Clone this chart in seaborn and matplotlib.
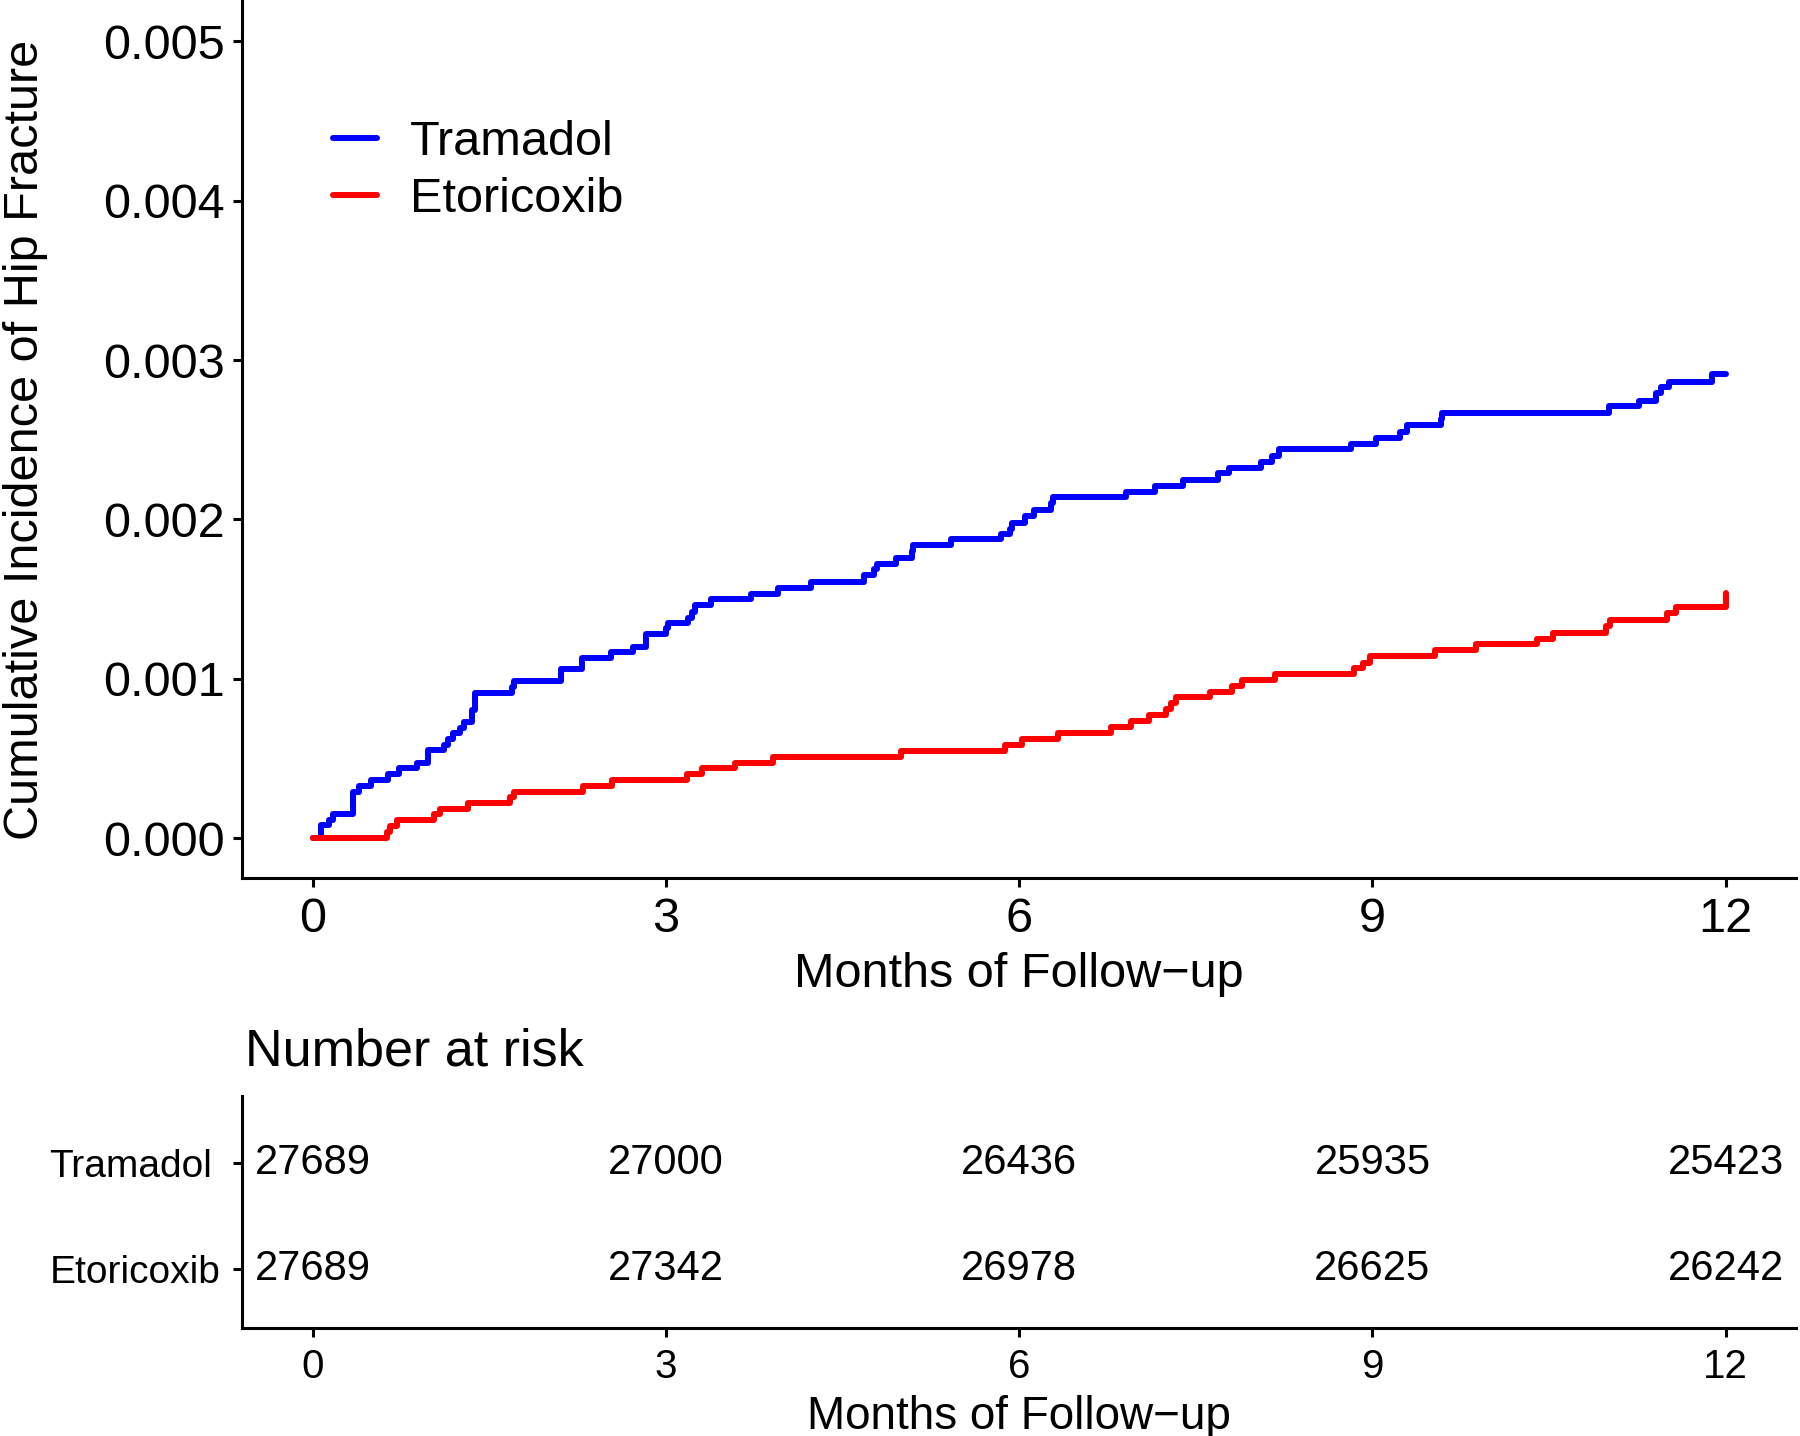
import pandas as pd
import matplotlib
matplotlib.use("Agg")
import matplotlib.pyplot as plt
import seaborn as sns
from matplotlib.ticker import FormatStrFormatter

# Step points (months, incidence x 1e-3)
tramadol_time = [0, 0.07, 0.14, 0.17, 0.34, 0.39, 0.50, 0.64, 0.73, 0.89,
                 0.98, 1.12, 1.15, 1.19, 1.25, 1.29, 1.35, 1.38, 1.69, 1.71,
                 2.11, 2.29, 2.53, 2.72, 2.83, 3.00, 3.02, 3.19, 3.22, 3.25,
                 3.38, 3.72, 3.95, 4.23, 4.68, 4.77, 4.79, 4.95, 5.09, 5.10,
                 5.42, 5.85, 5.92, 5.94, 6.05, 6.13, 6.27, 6.29, 6.91, 7.15,
                 7.39, 7.69, 7.78, 8.05, 8.15, 8.21, 8.82, 9.03, 9.23, 9.29,
                 9.58, 9.59, 11.01, 11.26, 11.41, 11.45, 11.52, 11.88, 12.0]
tramadol_inc = [0, 0.081, 0.113, 0.150, 0.288, 0.326, 0.363, 0.401, 0.439, 0.470,
                0.551, 0.583, 0.620, 0.658, 0.689, 0.727, 0.802, 0.908, 0.946, 0.984,
                1.06, 1.13, 1.17, 1.20, 1.28, 1.32, 1.35, 1.38, 1.42, 1.46,
                1.50, 1.53, 1.57, 1.61, 1.65, 1.69, 1.72, 1.76, 1.80, 1.84,
                1.88, 1.91, 1.94, 1.98, 2.02, 2.06, 2.10, 2.14, 2.17, 2.21,
                2.25, 2.29, 2.32, 2.36, 2.40, 2.44, 2.47, 2.51, 2.55, 2.59,
                2.63, 2.67, 2.71, 2.74, 2.79, 2.83, 2.86, 2.91, 2.91]

etori_time = [0, 0.63, 0.66, 0.72, 1.03, 1.08, 1.32, 1.68, 1.71, 2.30,
              2.54, 3.18, 3.31, 3.59, 3.91, 5.00, 5.88, 6.02, 6.33, 6.78,
              6.95, 7.10, 7.25, 7.29, 7.33, 7.62, 7.81, 7.89, 8.17, 8.84,
              8.92, 8.98, 9.53, 9.88, 10.40, 10.53, 10.98, 11.02, 11.50, 11.58,
              12.0]
etori_inc = [0, 0.038, 0.075, 0.113, 0.150, 0.182, 0.219, 0.257, 0.288, 0.326,
             0.363, 0.401, 0.439, 0.470, 0.508, 0.545, 0.583, 0.620, 0.658, 0.695,
             0.733, 0.771, 0.808, 0.846, 0.883, 0.915, 0.952, 0.990, 1.03, 1.07,
             1.10, 1.14, 1.18, 1.22, 1.25, 1.29, 1.33, 1.37, 1.41, 1.45,
             1.54]

groups = ["Tramadol", "Etoricoxib"]
colors = {"Tramadol": "#0000FF", "Etoricoxib": "#FF0000"}

# Number at risk table
risk_times = [0, 3, 6, 9, 12]
risk_tramadol = [27689, 27000, 26436, 25935, 25423]
risk_etori = [27689, 27342, 26978, 26625, 26242]

x_ticks = [0, 3, 6, 9, 12]
y_ticks = [0, 0.001, 0.002, 0.003, 0.004, 0.005]

df = pd.concat([
    pd.DataFrame({"time": tramadol_time, "cum": [v / 1000 for v in tramadol_inc], "group": "Tramadol"}),
    pd.DataFrame({"time": etori_time, "cum": [v / 1000 for v in etori_inc], "group": "Etoricoxib"}),
])

sns.set_style("ticks")
plt.rcParams['font.family'] = ['Liberation Sans', 'DejaVu Sans']
plt.rcParams['text.color'] = 'black'
plt.rcParams['axes.labelcolor'] = 'black'
plt.rcParams['xtick.color'] = 'black'
plt.rcParams['ytick.color'] = 'black'

fig = plt.figure(figsize=(18, 14.36), dpi=100)

# main curve panel
ax = fig.add_axes([0.1344, 0.3886, 0.8636, 0.6104])
sns.lineplot(data=df, x="time", y="cum", hue="group", hue_order=groups,
             palette=colors, drawstyle="steps-post", estimator=None,
             linewidth=4.3, ax=ax)

ax.set_xlim(-0.6, 12.6)
ax.set_ylim(-0.00025, 0.00525)
ax.set_xticks(x_ticks)
ax.set_yticks(y_ticks)
ax.yaxis.set_major_formatter(FormatStrFormatter('%.3f'))
ax.tick_params(axis='both', labelsize=35, length=6.5, width=2.2, color='black')
ax.tick_params(axis='x', pad=7)
ax.tick_params(axis='y', pad=6)
for side in ["top", "right"]:
    ax.spines[side].set_visible(False)
for side in ["left", "bottom"]:
    ax.spines[side].set_linewidth(2.2)
    ax.spines[side].set_color('black')

ax.set_xlabel("Months of Follow\u2212up", fontsize=35)
ax.set_ylabel("Cumulative Incidence of Hip Fracture", fontsize=35)
ax.xaxis.set_label_coords(0.5, -0.0843)
ax.yaxis.set_label_coords(-0.125, 0.5)

ax.legend(title=None, loc='upper left', bbox_to_anchor=(0.0585, 0.865),
          frameon=False, fontsize=35, handlelength=0.9, handletextpad=0.68,
          labelspacing=0.25, borderpad=0, borderaxespad=0)

# number at risk table
ax2 = fig.add_axes([0.1344, 0.0752, 0.8636, 0.1616])
ax2.set_xlim(-0.6, 12.6)
ax2.set_ylim(0.44, 2.63)
for t, n in zip(risk_times, risk_tramadol):
    ax2.text(t, 2, str(n), ha='center', va='center', fontsize=30)
for t, n in zip(risk_times, risk_etori):
    ax2.text(t, 1, str(n), ha='center', va='center', fontsize=30)
ax2.set_xticks(x_ticks)
ax2.set_yticks([2, 1])
ax2.set_yticklabels(groups)
for lab in ax2.get_yticklabels():
    lab.set_horizontalalignment('left')
ax2.tick_params(axis='x', labelsize=29, length=6.5, width=2.2, pad=8)
ax2.tick_params(axis='y', labelsize=28, length=6.5, width=2.2, pad=132)
for side in ["top", "right"]:
    ax2.spines[side].set_visible(False)
for side in ["left", "bottom"]:
    ax2.spines[side].set_linewidth(2.2)
    ax2.spines[side].set_color('black')
ax2.set_xlabel("Months of Follow\u2212up", fontsize=33)
ax2.xaxis.set_label_coords(0.5, -0.289)

fig.text(0.1361, 1 - 1052 / 1436, "Number at risk", fontsize=37.5,
         ha='left', va='center')

fig.savefig("out.png", dpi=100)
